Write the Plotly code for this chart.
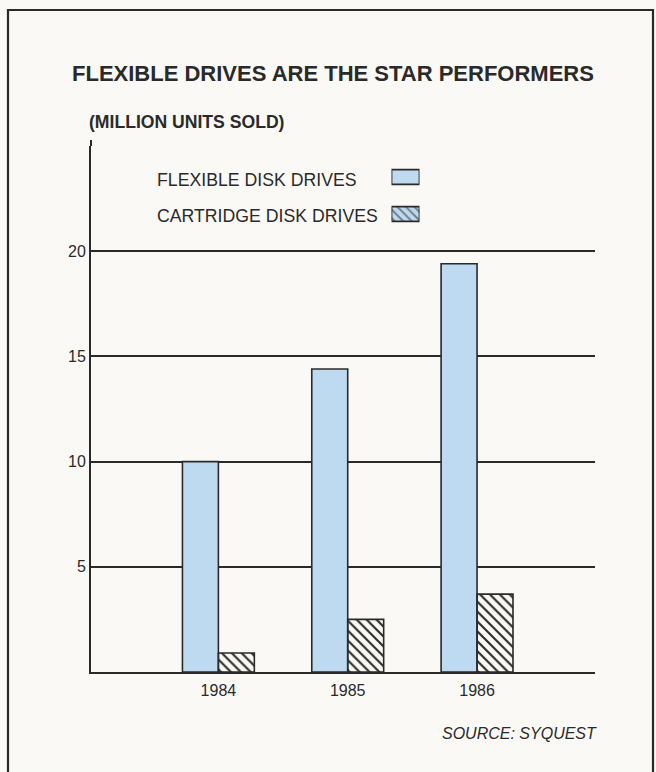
import plotly.graph_objects as go

# ---- data ----
years = ["1984", "1985", "1986"]
flexible = [10, 14.4, 19.4]
cartridge = [0.9, 2.5, 3.7]
series_names = ["FLEXIBLE DISK DRIVES", "CARTRIDGE DISK DRIVES"]
y_tickvals = [0, 5, 10, 15, 20, 25]
y_ticktext = ["", "5", "10", "15", "20", ""]

# ---- style ----
W, H = 656, 772
ML, MR, MT, MB = 91, 61, 146, 100
PW, PH = W - ML - MR, H - MT - MB
INK = "#2a2a2a"
BLUE = "#bddaf0"
BG = "#faf9f5"
FONT = "Liberation Sans, Arial, Helvetica, sans-serif"


def px_x(px):
    return (px - ML) / PW


def px_y(py):
    return (H - MB - py) / PH


hatch = dict(shape="\\", fgcolor=INK, size=7, solidity=0.3, fillmode="replace")

fig = go.Figure()
fig.add_trace(go.Bar(
    x=years, y=flexible, name=series_names[0],
    marker=dict(color=BLUE, line=dict(color=INK, width=1.6)),
    showlegend=False, hoverinfo="x+y",
))
fig.add_trace(go.Bar(
    x=years, y=cartridge, name=series_names[1],
    marker=dict(color=BLUE, line=dict(color=INK, width=1.6), pattern=hatch),
    showlegend=False, hoverinfo="x+y",
))

# legend swatches on a small auxiliary subplot
swatch_len = [1]
fig.add_trace(go.Bar(
    x=swatch_len, y=[1], orientation="h", xaxis="x2", yaxis="y2",
    width=0.4, offset=-0.2,
    marker=dict(color=BLUE, line=dict(color=INK, width=1.8)),
    showlegend=False, hoverinfo="skip",
))
fig.add_trace(go.Bar(
    x=swatch_len, y=[0], orientation="h", xaxis="x2", yaxis="y2",
    width=0.4, offset=-0.2,
    marker=dict(color=BLUE, line=dict(color=INK, width=1.8),
                pattern=dict(shape="\\", fgcolor=INK, size=6, solidity=0.35)),
    showlegend=False, hoverinfo="skip",
))

annotations = [
    dict(text="<b>FLEXIBLE DRIVES ARE THE STAR PERFORMERS</b>",
         x=px_x(69.5), y=px_y(74), xanchor="left", yanchor="middle",
         font=dict(size=22, color=INK, family=FONT)),
    dict(text="<b>(MILLION UNITS SOLD)</b>",
         x=px_x(86.5), y=px_y(122), xanchor="left", yanchor="middle",
         font=dict(size=17.6, color=INK, family=FONT)),
    dict(text=series_names[0],
         x=px_x(155), y=px_y(180), xanchor="left", yanchor="middle",
         font=dict(size=17.7, color=INK, family=FONT)),
    dict(text=series_names[1],
         x=px_x(155), y=px_y(216), xanchor="left", yanchor="middle",
         font=dict(size=17.7, color=INK, family=FONT)),
    dict(text="<i>SOURCE: SYQUEST</i>",
         x=px_x(599), y=px_y(733), xanchor="right", yanchor="middle",
         font=dict(size=16, color=INK, family=FONT)),
]
for a in annotations:
    a.update(xref="paper", yref="paper", showarrow=False)

shapes = [
    # outer frame
    dict(type="rect", xref="paper", yref="paper",
         x0=px_x(8), x1=px_x(653), y0=px_y(800), y1=px_y(10),
         line=dict(color=INK, width=2.2), layer="below"),
    # y-axis line stub above the top gridline
    dict(type="line", xref="paper", yref="paper",
         x0=0, x1=0, y0=1, y1=px_y(140),
         line=dict(color=INK, width=2)),
]

fig.update_layout(
    width=W, height=H,
    margin=dict(l=ML, r=MR, t=MT, b=MB, pad=0),
    paper_bgcolor=BG, plot_bgcolor=BG,
    barmode="group", bargap=0.444, bargroupgap=0,
    font=dict(family=FONT, color=INK),
    annotations=annotations, shapes=shapes,
    xaxis=dict(
        type="category", range=[-0.985, 2.912],
        showline=True, linecolor=INK, linewidth=2,
        showgrid=False, zeroline=False, ticks="", ticklabelstandoff=3,
        tickfont=dict(size=16, color=INK, family=FONT),
        fixedrange=True,
    ),
    yaxis=dict(
        range=[0, 25], tickvals=y_tickvals, ticktext=y_ticktext,
        showline=True, linecolor=INK, linewidth=2,
        showgrid=True, gridcolor=INK, gridwidth=1.6,
        zeroline=False, ticks="", ticklabelstandoff=0,
        tickfont=dict(size=16, color=INK, family=FONT),
        fixedrange=True,
    ),
    xaxis2=dict(domain=[px_x(391.5), px_x(419.5)], range=[0, 1],
                anchor="y2", visible=False, fixedrange=True),
    yaxis2=dict(domain=[px_y(232.5), px_y(158.5)], range=[-0.5, 1.5],
                anchor="x2", visible=False, fixedrange=True),
    showlegend=False,
)

fig.write_html(
    "out.html",
    config={"displayModeBar": False},
    post_script="document.body.style.margin='0';document.body.style.padding='0';"
                "document.body.style.overflow='hidden';",
)
